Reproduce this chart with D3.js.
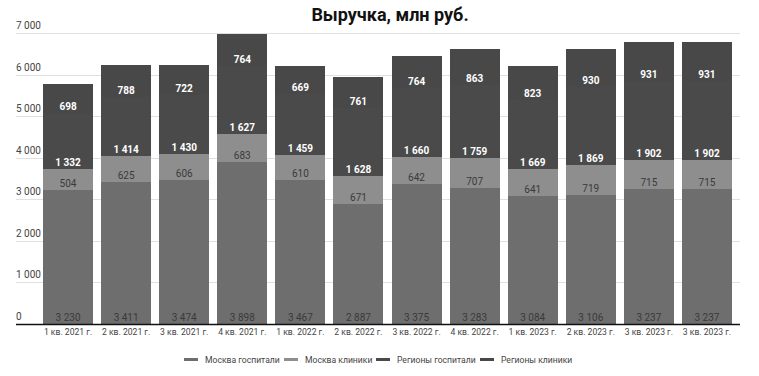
<!DOCTYPE html>
<html><head><meta charset="utf-8">
<script src="https://cdn.jsdelivr.net/npm/d3@7"></script>
<style>body{margin:0;background:#fff;font-family:Roboto,"Noto Sans",sans-serif}</style>
</head><body>
<svg id="c" width="759" height="376"></svg>
<script>
const categories = ["1 кв. 2021 г.","2 кв. 2021 г.","3 кв. 2021 г.","4 кв. 2021 г.","1 кв. 2022 г.","2 кв. 2022 г.","3 кв. 2022 г.","4 кв. 2022 г.","1 кв. 2023 г.","2 кв. 2023 г.","3 кв. 2023 г.","3 кв. 2023 г."];
const moscowHospitals = [3230,3411,3474,3898,3467,2887,3375,3283,3084,3106,3237,3237];
const moscowClinics = [504,625,606,683,610,671,642,707,641,719,715,715];
const regionsHospitals = [1332,1414,1430,1627,1459,1628,1660,1759,1669,1869,1902,1902];
const regionsClinics = [698,788,722,764,669,761,764,863,823,930,931,931];
const seriesNames = ["Москва госпитали","Москва клиники","Регионы госпитали","Регионы клиники"];
const yTicks = [0,1000,2000,3000,4000,5000,6000,7000];
const title = "Выручка, млн руб.";

const colors = ["#6e6e6e","#8e8e8e","#4a4a4a","#484848"];
const labelColors = ["#3a3a3a","#3a3a3a","#ffffff","#ffffff"];
const labelWeights = ["normal","normal","bold","bold"];

const svg = d3.select("#c");
const fmt = v => d3.format(",")(v).replace(/,/g, " ");

const y = d3.scaleLinear().domain([0,7000]).range([324,33]);
const x = d3.scaleBand().domain(d3.range(categories.length)).range([39,736]).paddingInner(0.14).paddingOuter(0.07);

// title
svg.append("text").attr("x",390).attr("y",21).attr("text-anchor","middle")
  .attr("font-size",18).attr("font-weight","bold").attr("fill","#111").text(title);

// grid
const gl = 16, gr = 740;
svg.append("g").selectAll("line").data(yTicks.filter(d=>d>0)).join("line")
  .attr("x1",gl).attr("x2",gr).attr("y1",d=>Math.round(y(d))+0.5).attr("y2",d=>Math.round(y(d))+0.5)
  .attr("stroke","#e0e0e0");
svg.append("g").selectAll("text").data(yTicks).join("text")
  .attr("x",16).attr("y",d=>y(d)-4).attr("font-size",10).attr("fill","#444")
  .text(d=>fmt(d));

// stacked data
const rows = categories.map((c,i)=>({i, s0:moscowHospitals[i], s1:moscowClinics[i], s2:regionsHospitals[i], s3:regionsClinics[i]}));
const stack = d3.stack().keys(["s0","s1","s2","s3"])(rows);

const g = svg.append("g").attr("shape-rendering","crispEdges");
stack.forEach((layer,k)=>{
  g.append("g").selectAll("rect").data(layer).join("rect")
    .attr("x",d=>x(d.data.i)).attr("width",x.bandwidth())
    .attr("y",d=>y(d[1])).attr("height",d=>y(d[0])-y(d[1]))
    .attr("fill",colors[k]);
});
const tg = svg.append("g");
stack.forEach((layer,k)=>{
  tg.append("g").selectAll("text").data(layer).join("text")
    .attr("x",d=>x(d.data.i)+x.bandwidth()/2).attr("y",d=>y(d[0])-3)
    .attr("text-anchor","middle").attr("font-size",10)
    .attr("font-weight",labelWeights[k]).attr("fill",labelColors[k])
    .text(d=>fmt(d[1]-d[0]));
});

// axis line
svg.append("line").attr("x1",gl).attr("x2",gr).attr("y1",y(0)+0.5).attr("y2",y(0)+0.5)
  .attr("stroke","#111").attr("stroke-width",1.5);

// x labels
svg.append("g").selectAll("text").data(categories).join("text")
  .attr("x",(d,i)=>x(i)+x.bandwidth()/2).attr("y",335).attr("text-anchor","middle")
  .attr("font-size",8.6).attr("fill","#444").text(d=>d);

// legend
const legendX = [184,284,376,480];
const lg = svg.append("g");
seriesNames.forEach((n,k)=>{
  lg.append("rect").attr("x",legendX[k]).attr("y",358).attr("width",14).attr("height",3).attr("fill",colors[k]);
  lg.append("text").attr("x",legendX[k]+21).attr("y",362.5).attr("font-size",8.6).attr("fill","#444").text(n);
});
</script>
</body></html>
